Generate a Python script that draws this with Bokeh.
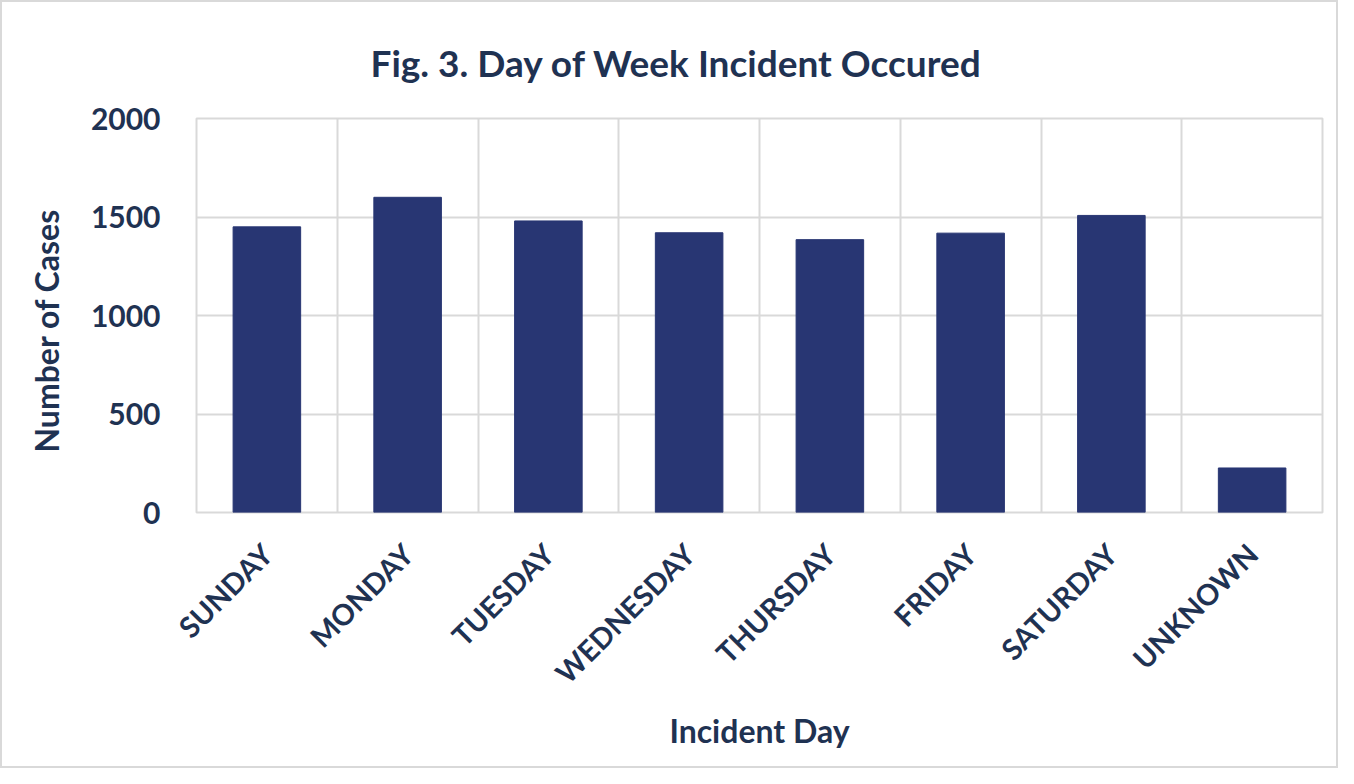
from bokeh.plotting import figure
from bokeh.models import FactorRange, Range1d, FixedTicker, Grid, Title
from bokeh.embed import file_html
from bokeh.resources import INLINE
import math

days = ["SUNDAY", "MONDAY", "TUESDAY", "WEDNESDAY", "THURSDAY", "FRIDAY", "SATURDAY", "UNKNOWN"]
cases = [1450, 1600, 1480, 1420, 1385, 1418, 1508, 226]
y_ticks = [0, 500, 1000, 1500, 2000]

TEXT = "#1F3252"
BAR = "#283673"
GRID = "#D9D9D9"
FONT = "Lato"

p = figure(
    x_range=FactorRange(*days),
    y_range=Range1d(0, 2000),
    width=1338, height=768,
    output_backend="svg", toolbar_location=None,
    min_border_left=194, min_border_right=18,
    min_border_top=116, min_border_bottom=258,
)
p.title = Title(text="Fig. 3. Day of Week Incident Occured", align="left",
                text_font=FONT, text_font_size="37px", text_font_style="bold",
                text_color=TEXT, offset=174, standoff=68)

p.vbar(x=days, top=cases, width=0.48, fill_color=BAR, line_color=BAR)

p.outline_line_color = GRID
p.outline_line_width = 2

# horizontal grid
p.ygrid.ticker = FixedTicker(ticks=y_ticks)
p.ygrid.grid_line_color = GRID
p.ygrid.grid_line_width = 2

# vertical grid between categories
p.xgrid.grid_line_color = None
vgrid = Grid(dimension=0, ticker=FixedTicker(ticks=list(range(len(days) + 1))),
             grid_line_color=GRID, grid_line_width=2)
p.add_layout(vgrid)

p.yaxis.ticker = FixedTicker(ticks=y_ticks)
for ax in (p.xaxis, p.yaxis):
    ax.axis_line_color = None
    ax.major_tick_line_color = None
    ax.minor_tick_line_color = None
    ax.major_label_text_font = FONT
    ax.major_label_text_font_style = "bold"
    ax.major_label_text_color = TEXT
    ax.axis_label_text_font = FONT
    ax.axis_label_text_font_style = "bold"
    ax.axis_label_text_color = TEXT

p.yaxis.major_label_text_font_size = "30px"
p.yaxis.major_label_standoff = 30

# y-axis title as a left-side Title so it can be positioned like the original
p.add_layout(Title(text="Number of Cases", align="left", offset=60,
                   text_font=FONT, text_font_size="32px", text_font_style="bold",
                   text_color=TEXT, standoff=44), "left")

p.xaxis.major_label_text_font_size = "29px"
p.xaxis.major_label_orientation = math.pi / 4
p.xaxis.major_label_standoff = 30
p.xaxis.axis_label = "Incident Day"
p.xaxis.axis_label_text_font_size = "32px"
p.xaxis.axis_label_standoff = 6

p.styles = {"border": "2px solid #D9D9D9"}

open("out.html", "w").write(file_html(p, INLINE))
